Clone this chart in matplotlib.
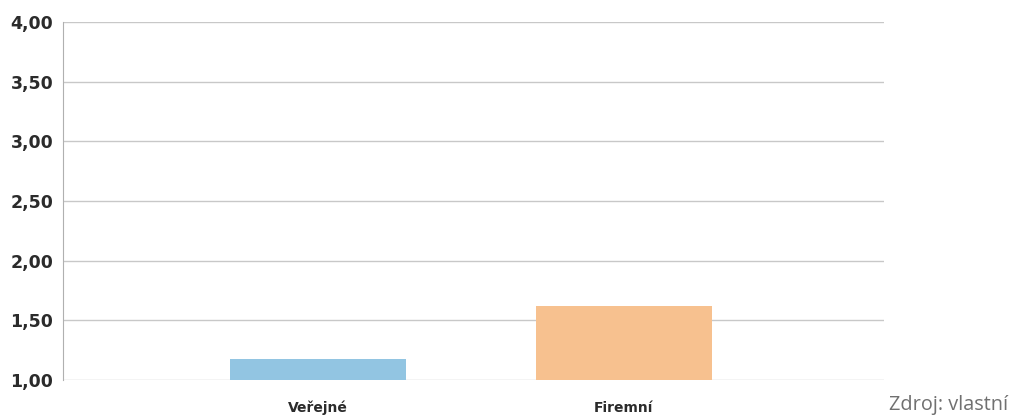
import matplotlib.pyplot as plt

categories = ['Veřejné', 'Firemní']
values = [1.18, 1.62]
bar_colors = ['#92c5e2', '#f7c18f']
y_ticks = [1.0, 1.5, 2.0, 2.5, 3.0, 3.5, 4.0]

fig = plt.figure(figsize=(10.14, 4.17), dpi=100)
ax = fig.add_axes([0.0621, 0.0887, 0.8097, 0.8585])

x = list(range(len(categories)))
ax.bar(x, [v - 1.0 for v in values], bottom=1.0, width=0.575, color=bar_colors, zorder=3)

ax.set_xlim(-0.833, 1.85)
ax.set_ylim(1.0, 4.0)
ax.set_yticks(y_ticks)
ax.set_yticklabels([f'{t:.2f}'.replace('.', ',') for t in y_ticks],
                   fontsize=12.5, fontweight='black', color='#2b2b2b', family='DejaVu Sans')
ax.set_xticks(x)
ax.set_xticklabels(categories, fontsize=10, fontweight='bold', color='#2b2b2b', family='DejaVu Sans')
ax.tick_params(axis='both', length=0)
ax.tick_params(axis='x', pad=15)
ax.tick_params(axis='y', pad=7)

ax.grid(axis='y', color='#c8c8c8', linewidth=1, zorder=0)
for s in ['top', 'right', 'bottom']:
    ax.spines[s].set_visible(False)
ax.spines['left'].set_color('#b0b0b0')

fig.text(0.877, 0.016, 'Zdroj: vlastní', fontsize=14.3, color='#707070', family='Open Sans')

fig.savefig('out.png', dpi=100)
